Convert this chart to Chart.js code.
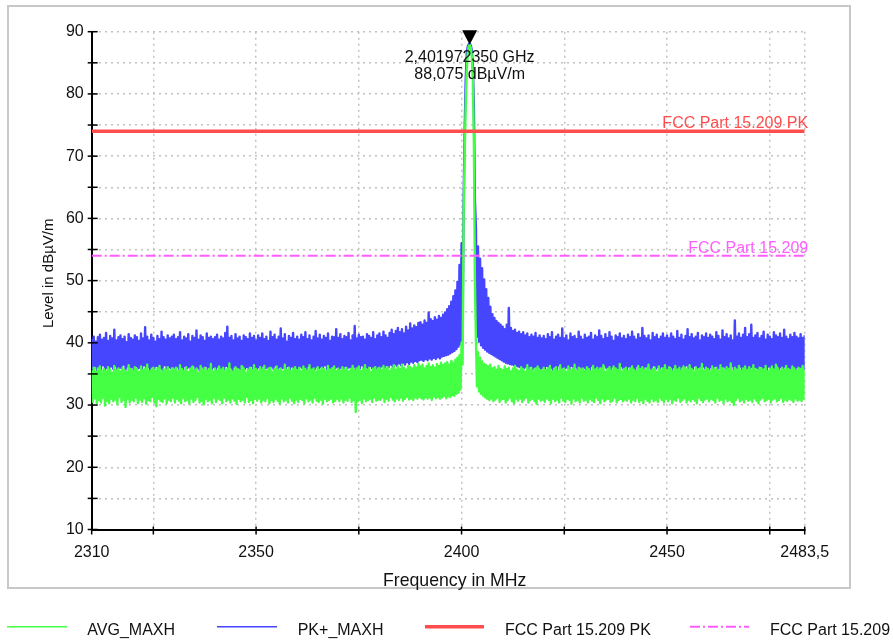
<!DOCTYPE html>
<html>
<head>
<meta charset="utf-8">
<script src="https://cdn.jsdelivr.net/npm/chart.js@4"></script>
<style>
  html, body { margin:0; padding:0; background:#fff; width:893px; height:642px; overflow:hidden; }
  #frame { position:absolute; left:7px; top:5px; width:840px; height:580px; border:2px solid #c8c8c8; }
  #c { position:absolute; left:0; top:0; }
</style>
</head>
<body>
<div id="frame"></div>
<canvas id="c" width="893" height="642"></canvas>
<script>
// ---- sweep grid ----
const FREQ_START = 2310;   // MHz
const FREQ_STEP = 0.25;    // MHz per sweep point

// ---- AVG_MAXH trace (dBµV/m), one value per sweep point, 10 MHz per row ----
const avgMaxh = [
  35.6,30.5,36.0,31.1,35.3,30.2,35.9,30.8,36.2,30.4,35.5,31.2,35.8,29.9,35.4,30.7,36.1,30.3,35.7,31.0,
  35.2,30.6,36.3,30.9,35.6,30.1,35.9,31.3,35.4,30.5,36.0,30.8,35.7,29.7,35.3,31.0,36.4,30.4,35.8,30.9,
  35.5,30.6,36.1,31.2,35.8,30.3,35.3,30.9,36.2,30.5,35.6,31.1,35.9,30.2,36.5,30.8,35.4,30.6,35.7,31.3,
  36.0,30.4,35.5,29.8,35.9,31.0,36.3,30.7,35.2,30.5,35.8,31.1,35.6,30.3,36.1,30.9,35.4,30.6,35.9,31.2,
  35.7,30.4,36.0,31.0,35.4,30.7,36.4,30.3,35.8,31.2,35.5,30.6,36.1,30.9,35.3,30.2,35.9,31.1,36.2,30.5,
  35.6,30.8,35.9,31.3,35.2,30.4,36.3,30.7,35.7,30.1,36.0,31.0,35.5,30.6,35.8,30.9,36.6,30.3,35.4,31.2,
  35.9,30.5,35.5,31.0,36.2,30.8,35.7,30.3,36.0,31.2,35.4,30.6,35.8,30.9,36.7,30.4,35.6,31.1,35.3,30.7,
  36.1,30.2,35.8,31.0,35.5,30.6,36.3,30.9,35.9,30.4,35.2,31.3,35.7,30.5,36.0,30.8,35.6,30.3,36.4,31.0,
  35.8,30.7,35.4,31.1,36.1,30.4,35.7,30.9,36.3,30.6,35.5,31.2,35.9,30.3,36.0,30.8,35.3,30.5,35.8,31.0,
  36.2,30.7,35.6,30.2,35.9,31.1,35.4,30.6,36.5,30.9,35.7,30.4,36.0,31.2,35.5,30.7,35.8,30.3,36.1,30.9,
  35.6,30.5,36.0,31.0,35.4,30.8,36.2,30.3,35.8,31.1,35.5,30.6,36.4,30.9,35.7,30.4,35.9,31.2,35.3,30.7,
  36.1,30.5,35.6,30.9,36.0,30.2,35.8,31.0,35.4,30.6,36.3,30.8,35.7,31.1,35.9,30.4,36.2,30.7,35.5,31.0,
  35.9,30.6,35.5,31.1,36.1,30.4,35.7,30.9,36.0,30.7,35.4,31.2,35.8,30.5,36.3,30.8,35.6,28.9,35.9,30.6,
  36.2,30.9,35.5,30.3,35.8,31.1,36.4,30.6,35.7,30.8,36.0,31.0,35.3,30.5,35.9,31.2,36.1,30.7,35.6,30.9,
  36.0,30.8,35.6,31.2,36.3,30.5,35.8,31.0,36.1,30.7,35.5,31.3,35.9,30.9,36.4,30.6,35.7,31.1,36.2,30.8,
  35.8,31.2,36.5,30.7,36.0,31.0,35.7,31.3,36.3,30.9,36.1,31.1,35.9,30.8,36.4,31.2,36.0,31.0,36.6,31.3,
  36.2,31.1,36.5,30.9,35.9,31.3,36.3,31.0,36.7,31.2,36.1,30.8,36.4,31.4,36.0,31.1,36.6,31.3,36.3,31.0,
  36.8,31.2,36.4,31.5,36.7,31.1,36.9,31.4,36.5,31.3,37.1,31.6,36.8,31.5,37.3,31.8,37.6,32.0,38.0,32.5,
  40.0,36.5,60.5,70.0,78.0,83.5,86.5,87.6,87.9,87.4,86.0,82.5,72.0,50.0,40.5,33.0,38.5,32.2,37.6,31.8,
  37.0,31.5,36.6,31.2,36.4,31.0,36.2,30.8,36.5,31.1,35.9,30.6,36.1,30.9,35.7,31.2,36.3,30.5,35.8,30.9,
  35.6,31.0,36.2,30.4,35.8,30.8,36.0,31.2,35.4,30.6,35.9,30.3,36.3,31.0,35.7,30.7,35.5,31.1,36.1,30.5,
  35.8,30.9,35.3,31.2,36.4,30.4,35.6,30.8,36.0,31.0,35.4,30.6,35.9,30.2,36.2,31.1,35.7,30.7,35.5,30.9,
  36.0,30.5,35.6,31.1,35.9,30.8,36.3,30.3,35.4,31.0,35.8,30.6,36.1,30.9,35.5,30.4,36.4,31.2,35.7,30.7,
  35.9,30.5,35.3,31.0,36.2,30.8,35.6,30.2,35.8,31.1,36.5,30.6,35.4,30.9,36.0,30.4,35.7,31.2,35.9,30.7,
  35.5,30.9,36.1,30.4,35.8,31.0,35.4,30.7,36.3,30.5,35.7,31.2,36.0,30.8,35.6,30.3,35.9,31.1,36.4,30.6,
  35.3,30.9,35.8,31.0,36.1,30.5,35.5,30.7,36.2,31.2,35.9,30.4,35.6,30.8,36.6,31.0,35.4,30.6,35.8,30.9,
  36.0,30.7,35.5,31.1,35.9,30.4,36.2,30.9,35.7,30.6,35.4,31.2,36.3,30.5,35.8,30.8,36.1,30.3,35.6,31.0,
  35.9,30.7,36.5,30.4,35.5,31.1,35.8,30.6,36.0,30.9,35.3,30.5,36.2,31.2,35.7,30.8,35.9,30.4,36.4,31.0,
  35.6,30.6,36.1,31.0,35.8,30.3,35.4,30.9,36.3,30.7,35.7,31.2,36.0,30.5,35.5,30.8,36.2,31.1,35.9,30.4,
  35.6,30.9,36.4,30.6,35.8,31.0,35.3,30.7,36.1,30.3,35.7,31.2,35.9,30.8,36.6,30.5,35.5,30.9,36.0,31.1,
  35.8,30.6,35.4,31.0,36.2,30.8,35.7,30.4,36.0,31.2,35.5,30.7,36.4,30.9,35.9,30.3,35.6,31.1,36.1,30.6,
  35.8,30.9,36.7,30.5,35.4,30.0,36.0,30.8,35.7,31.2,36.3,30.6,35.5,30.9,35.9,30.4,36.2,31.0,35.6,30.7,
  36.1,30.9,35.7,30.5,36.4,31.1,35.8,30.7,35.5,30.3,36.0,30.9,35.9,31.2,35.6,30.6,36.3,30.8,35.4,31.0,
  35.8,30.4,36.2,30.9,35.7,31.1,36.5,30.6,35.9,30.8,35.5,31.2,36.0,30.5,35.7,30.9,36.3,30.7,35.8,31.0,
  35.6,30.8,36.2,30.5,35.9,31.1,35.5,30.7,36.0,30.9,35.8,30.6,36.3,31.0,35.7
];

// ---- PK+_MAXH trace (dBµV/m), one value per sweep point, 10 MHz per row ----
const pkMaxh = [
  40.6,35.9,41.0,36.3,40.2,35.6,40.9,36.1,41.3,35.8,40.5,36.4,40.8,35.7,41.6,36.0,40.3,35.5,41.1,36.2,
  40.7,35.8,42.1,36.3,40.4,35.6,40.9,36.0,41.2,35.9,40.6,36.5,41.0,35.7,40.1,36.2,41.4,35.8,40.8,36.1,
  40.5,35.6,41.2,36.3,40.9,35.9,40.3,36.0,41.5,35.7,40.7,36.4,42.5,35.8,41.0,36.1,40.4,35.5,41.3,36.2,
  40.8,35.9,40.2,36.3,41.1,35.7,40.6,36.0,41.8,35.6,40.9,36.4,40.5,35.8,41.2,36.1,40.7,35.9,41.0,36.2,
  41.3,35.7,40.6,36.2,40.9,35.8,41.7,36.0,40.4,35.6,41.0,36.3,40.7,35.9,41.4,36.1,40.2,35.7,41.1,36.4,
  40.8,35.8,42.0,36.0,40.5,35.6,41.2,36.2,40.9,35.9,40.3,36.3,41.5,35.7,40.8,36.0,41.0,35.8,40.6,36.1,
  40.9,35.6,41.3,36.2,40.5,35.9,41.0,36.0,40.7,35.7,41.6,36.3,42.6,35.8,40.8,36.1,41.1,35.5,40.4,36.2,
  41.4,35.9,40.7,36.0,41.0,35.6,40.3,36.4,41.2,35.8,40.9,36.1,40.6,35.7,41.5,36.3,40.8,35.9,41.1,36.0,
  40.4,35.8,41.2,36.1,40.8,35.6,41.5,36.3,40.6,35.9,41.0,36.0,40.3,35.7,41.8,36.2,40.9,35.8,41.3,36.4,
  40.5,35.6,41.0,36.1,42.3,35.9,40.7,36.0,41.4,35.7,40.2,36.3,41.1,35.8,40.8,36.2,41.6,35.9,40.6,36.0,
  41.0,35.7,40.5,36.2,41.3,35.9,40.9,36.1,41.7,35.6,40.6,36.3,41.2,35.8,40.4,36.0,41.0,35.7,41.9,36.2,
  40.7,35.9,41.3,36.1,40.5,35.6,41.1,36.4,40.8,35.8,41.5,36.0,40.3,35.7,41.0,36.3,40.9,35.9,42.2,36.1,
  40.8,35.8,41.4,36.0,40.6,35.7,41.1,36.3,40.9,35.9,41.6,36.1,40.4,35.6,41.2,36.2,42.7,35.8,40.7,36.0,
  41.3,35.9,40.9,36.4,41.0,35.7,40.5,36.1,41.4,35.8,41.1,36.3,40.8,35.9,41.7,36.0,40.6,35.8,41.2,36.2,
  41.5,36.0,40.9,36.3,41.8,35.9,41.2,36.4,40.8,36.1,41.6,36.5,42.1,36.2,41.4,36.6,41.9,36.3,42.4,36.7,
  41.7,36.4,42.2,36.8,41.5,36.5,42.6,36.9,42.0,36.6,43.1,37.0,42.3,36.8,42.8,37.1,42.5,36.9,43.2,37.2,
  43.3,37.3,42.9,37.1,43.6,37.4,43.2,37.2,44.9,37.5,43.8,37.3,43.5,37.6,44.1,37.4,43.7,37.7,44.3,37.5,
  44.0,37.8,44.5,37.9,44.9,38.0,45.4,38.1,45.9,38.3,46.6,38.5,47.5,38.7,48.4,39.0,49.8,39.4,52.5,39.8,
  56.0,40.5,62.5,74.0,82.0,86.5,87.6,88.0,88.1,87.8,87.0,84.5,78.0,63.0,58.5,41.0,55.5,40.2,53.5,39.6,
  52.0,39.2,50.2,38.9,48.6,38.6,47.2,38.4,45.8,38.2,44.6,38.0,44.0,37.8,43.5,37.6,43.2,37.4,42.9,37.2,
  42.6,37.0,42.2,36.8,42.9,36.7,45.6,36.6,42.4,36.5,41.9,36.4,42.1,36.3,41.6,36.2,41.8,36.1,41.4,36.0,
  41.7,35.9,41.2,36.2,41.5,35.8,40.9,36.3,41.3,35.7,41.0,36.1,41.6,35.9,40.8,36.2,41.2,35.8,40.7,36.0,
  41.1,35.7,40.6,36.3,41.4,35.9,40.9,36.0,41.7,35.6,40.5,36.2,41.0,35.8,41.3,36.4,40.8,35.7,42.3,36.1,
  40.7,35.9,41.2,36.0,40.4,35.6,41.5,36.3,40.9,35.8,41.1,36.1,40.6,35.7,41.8,36.2,41.0,35.9,40.5,36.0,
  41.3,35.8,40.8,36.1,41.0,35.6,41.6,36.3,40.5,35.9,41.2,36.0,40.9,35.7,42.0,36.2,41.1,35.8,40.6,36.4,
  41.4,35.9,40.8,36.1,41.7,35.6,41.0,36.2,40.3,35.8,41.2,36.0,40.9,35.7,41.5,36.3,40.7,35.9,41.1,36.1,
  40.6,35.7,41.3,36.2,40.9,35.9,41.8,36.0,41.0,35.6,40.5,36.3,41.4,35.8,40.8,36.1,42.4,35.7,41.1,36.2,
  40.7,35.9,41.2,36.0,40.4,35.6,41.6,36.4,40.9,35.8,41.3,36.1,40.6,35.7,41.0,36.2,41.5,35.9,40.8,36.0,
  41.2,35.8,40.7,36.3,41.5,35.6,41.0,36.1,40.6,35.9,41.9,36.0,40.8,35.7,41.3,36.2,40.5,35.8,41.1,36.4,
  42.2,35.9,40.9,36.0,41.4,35.7,40.7,36.3,41.0,35.6,41.6,36.1,40.4,35.8,41.2,36.2,40.9,35.9,41.5,36.0,
  40.8,35.7,41.3,36.1,41.0,35.9,40.6,36.3,41.7,35.8,41.1,36.0,40.5,35.6,42.0,36.2,40.9,35.9,41.4,36.1,
  40.7,35.8,41.2,36.3,40.4,35.7,43.6,36.0,41.0,35.9,41.5,36.2,40.8,35.6,41.3,36.1,42.4,35.8,40.9,36.0,
  41.4,35.9,42.9,36.2,40.8,35.7,41.2,36.0,41.6,35.8,40.7,36.3,41.1,35.9,41.8,36.1,40.5,35.6,41.3,36.2,
  41.0,35.8,40.6,36.0,41.7,35.9,41.2,36.4,40.9,35.7,41.5,36.1,40.8,35.8,42.1,36.2,41.0,35.9,40.6,36.0,
  41.3,35.8,40.9,36.2,41.6,35.7,41.0,36.1,40.7,35.9,41.4,36.0,40.8,35.8,41.2
];

// ---- limit lines ----
const limitFreqs = [2310, 2483.5];
const limitPkLevels = [74, 74];
const limitAvgLevels = [54, 54];

// ---- marker ----
const markerFreq = 2401.97235;
const markerLevel = 88.075;
const markerText = ['2,401972350 GHz', '88,075 dBµV/m'];

// ---- axes ----
const xTicks = [2310, 2325, 2350, 2375, 2400, 2425, 2450, 2475, 2483.5];
const xTickLabels = ['2310', '', '2350', '', '2400', '', '2450', '', '2483,5'];
const yTicks = [10,15,20,25,30,35,40,45,50,55,60,65,70,75,80,85,90];
const yTickLabels = ['10','','20','','30','','40','','50','','60','','70','','80','','90'];
const xTitle = 'Frequency in MHz';
const yTitle = 'Level in dBµV/m';

const FONT = '"Liberation Sans", Arial, Helvetica, sans-serif';
const C_AVG = '#44ff44', C_PK = '#4646ff', C_LPK = '#ff4d4d', C_LAVG = '#ff5cff';

const toPts = arr => arr.map((v, i) => ({ x: FREQ_START + i * FREQ_STEP, y: v }));
const limPts = lv => limitFreqs.map((f, i) => ({ x: f, y: lv[i] }));

const decor = {
  id: 'decor',
  afterDraw(chart) {
    const ctx = chart.ctx, xs = chart.scales.x, ys = chart.scales.y, a = chart.chartArea;
    ctx.save();
    // tick marks crossing the axes
    ctx.strokeStyle = '#000'; ctx.lineWidth = 1.5; ctx.setLineDash([]);
    yTicks.forEach(v => { const p = ys.getPixelForValue(v); ctx.beginPath(); ctx.moveTo(a.left - 4, p); ctx.lineTo(a.left + 6, p); ctx.stroke(); });
    xTicks.forEach(v => { const p = xs.getPixelForValue(v); ctx.beginPath(); ctx.moveTo(p, a.bottom - 3); ctx.lineTo(p, a.bottom + 5); ctx.stroke(); });
    // limit labels
    ctx.font = '16px ' + FONT; ctx.textAlign = 'right'; ctx.textBaseline = 'alphabetic';
    ctx.fillStyle = C_LPK; ctx.fillText('FCC Part 15.209 PK', a.right + 3.5, ys.getPixelForValue(limitPkLevels[1]) - 3);
    ctx.fillStyle = C_LAVG; ctx.fillText('FCC Part 15.209', a.right + 3.5, ys.getPixelForValue(limitAvgLevels[1]) - 2.5);
    // marker
    const mx = xs.getPixelForValue(markerFreq), my = ys.getPixelForValue(markerLevel);
    ctx.fillStyle = '#000';
    ctx.beginPath(); ctx.moveTo(mx - 7.5, my - 13.5); ctx.lineTo(mx + 7.5, my - 13.5); ctx.lineTo(mx, my + 1); ctx.closePath(); ctx.fill();
    ctx.textAlign = 'center'; ctx.textBaseline = 'middle'; ctx.fillStyle = '#111';
    ctx.fillText(markerText[0], mx, my + 13.5);
    ctx.fillText(markerText[1], mx, my + 31);
    // axis titles
    ctx.textBaseline = 'alphabetic';
    ctx.font = '17.7px ' + FONT;
    ctx.fillText(xTitle, 454.7, 585.5);
    ctx.save(); ctx.translate(53.4, 273.3); ctx.rotate(-Math.PI / 2);
    ctx.font = '15px ' + FONT; ctx.fillText(yTitle, 0, 0); ctx.restore();
    // legend
    const items = [[7, 67, 87.3], [217, 277, 297.7], [425, 484, 505], [690, 749, 770]];
    ctx.font = '16px ' + FONT; ctx.textAlign = 'left';
    chart.data.datasets.forEach((ds, i) => {
      const it = items[i];
      ctx.save();
      ctx.strokeStyle = ds.borderColor; ctx.lineWidth = i === 2 ? 3.5 : (i === 3 ? 2 : 1.5);
      ctx.setLineDash(ds.borderDash || []);
      ctx.beginPath(); ctx.moveTo(it[0], 626.7); ctx.lineTo(it[1], 626.7); ctx.stroke();
      ctx.restore();
      ctx.fillStyle = '#111'; ctx.fillText(ds.label, it[2], 635);
    });
    ctx.restore();
  }
};

new Chart(document.getElementById('c'), {
  type: 'line',
  data: {
    datasets: [
      { label: 'AVG_MAXH', data: toPts(avgMaxh), borderColor: C_AVG, borderWidth: 2.4, pointRadius: 0, order: 1 },
      { label: 'PK+_MAXH', data: toPts(pkMaxh), borderColor: C_PK, borderWidth: 2.4, pointRadius: 0, order: 2 },
      { label: 'FCC Part 15.209 PK', data: limPts(limitPkLevels), borderColor: C_LPK, borderWidth: 3.5, pointRadius: 0, order: 0 },
      { label: 'FCC Part 15.209', data: limPts(limitAvgLevels), borderColor: C_LAVG, borderWidth: 2, borderDash: [10, 3, 2, 3], pointRadius: 0, order: 0 }
    ]
  },
  options: {
    responsive: false, animation: false, parsing: false, events: [],
    layout: { padding: { left: 0, top: 31.7, right: 88.3, bottom: 0 } },
    elements: { line: { tension: 0, borderJoinStyle: 'round' } },
    plugins: { legend: { display: false }, tooltip: { enabled: false } },
    scales: {
      x: {
        type: 'linear', min: 2310, max: 2483.5,
        afterBuildTicks: s => { s.ticks = xTicks.map(v => ({ value: v })); },
        afterFit: s => { s.height = 112.5; },
        ticks: { autoSkip: false, maxRotation: 0, padding: 13, color: '#111', font: { family: FONT, size: 16 }, callback: (v, i) => xTickLabels[i] },
        grid: { color: '#c2c2c2', lineWidth: 1.5, drawTicks: false },
        border: { display: true, color: '#000', width: 2, dash: [2, 4] }
      },
      y: {
        type: 'linear', min: 10, max: 90,
        afterBuildTicks: s => { s.ticks = yTicks.map(v => ({ value: v })); },
        afterFit: s => { s.width = 91.7; },
        ticks: { autoSkip: false, padding: 8, color: '#111', font: { family: FONT, size: 16 }, callback: (v, i) => yTickLabels[i] },
        grid: { color: '#c2c2c2', lineWidth: 1.5, drawTicks: false },
        border: { display: true, color: '#000', width: 2, dash: [2, 4] }
      }
    }
  },
  plugins: [decor]
});
</script>
</body>
</html>
